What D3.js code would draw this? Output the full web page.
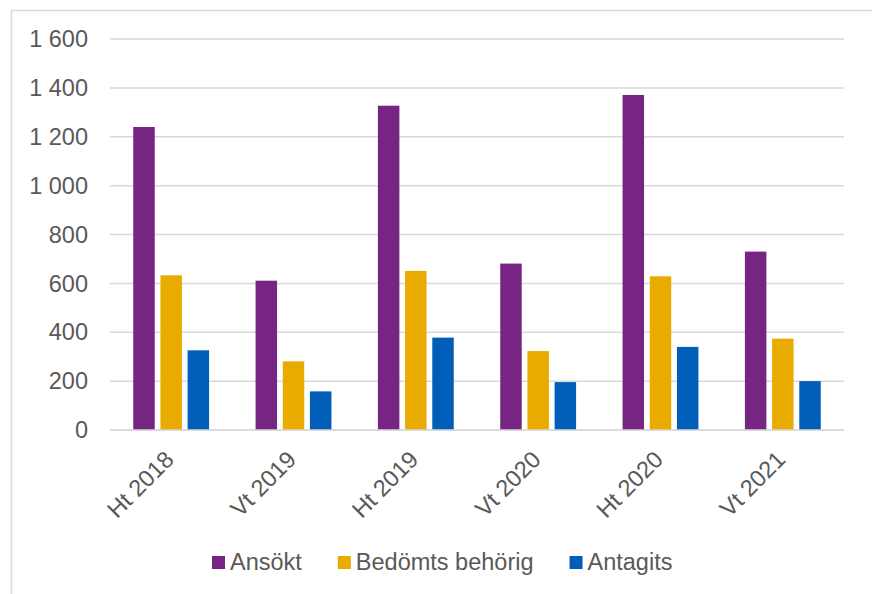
<!DOCTYPE html>
<html><head><meta charset="utf-8">
<script src="https://cdn.jsdelivr.net/npm/d3@7"></script>
<style>
html,body{margin:0;padding:0;background:#fff;}
svg{display:block;}
text{font-family:Arial,"Liberation Sans",sans-serif;fill:#595959;}
</style></head>
<body>
<script>
const categories = ["Ht 2018","Vt 2019","Ht 2019","Vt 2020","Ht 2020","Vt 2021"];
const seriesNames = ["Ansökt","Bedömts behörig","Antagits"];
const ansokt = [1240, 611, 1327, 681, 1371, 730];
const behorig = [633, 281, 651, 323, 629, 374];
const antagits = [326, 158, 378, 196, 340, 200];
const colors = ["#772583","#EAAB00","#005EB8"];
const yTicks = [0,200,400,600,800,1000,1200,1400,1600];

(function(){
const W = 872, H = 594;
const svg = d3.select("body").append("svg").attr("width",W).attr("height",H);

// outer frame
svg.append("rect").attr("x",11.5).attr("y",10.5).attr("width",W).attr("height",H)
  .attr("fill","none").attr("stroke","#d9d9d9").attr("stroke-width",1.5);

const pLeft = 110, pRight = 844, pTop = 39, pBottom = 430;
const y = d3.scaleLinear().domain([0,1600]).range([pBottom, pTop]);
const x0 = d3.scaleBand().domain(categories).range([pLeft, pRight]).padding(0);
const bw = x0.bandwidth();
const x1 = d3.scaleBand().domain(seriesNames).range([bw*0.19, bw*0.81]).paddingInner(0.21);

const fmt = v => d3.format(",")(v).replace(/,/g, " ");

// gridlines
svg.append("g").selectAll("line").data(yTicks).join("line")
  .attr("x1",pLeft).attr("x2",pRight)
  .attr("y1",d=>y(d)).attr("y2",d=>y(d))
  .attr("stroke","#d9d9d9").attr("stroke-width",1.5);

// y labels
svg.append("g").selectAll("text").data(yTicks).join("text")
  .attr("x",88).attr("y",d=>y(d)).attr("dy","0.35em")
  .attr("text-anchor","end").attr("font-size",23.5)
  .text(fmt);

const data = [ansokt, behorig, antagits];
const g = svg.append("g");
seriesNames.forEach((s,si)=>{
  g.append("g").selectAll("rect").data(categories).join("rect")
    .attr("x",(c)=>x0(c)+x1(s))
    .attr("width",x1.bandwidth())
    .attr("y",(c,i)=>y(data[si][i]))
    .attr("height",(c,i)=>y(0)-y(data[si][i]))
    .attr("fill",colors[si]);
});

// x axis line
svg.append("line").attr("x1",pLeft).attr("x2",pRight).attr("y1",y(0)).attr("y2",y(0))
  .attr("stroke","#d9d9d9").attr("stroke-width",1.5);

// x labels
svg.append("g").selectAll("text").data(categories).join("text")
  .attr("transform",c=>`translate(${x0(c)+bw/2+4},${pBottom+31}) rotate(-45)`)
  .attr("text-anchor","end").attr("font-size",23.5)
  .text(c=>c);

// legend
const leg = svg.append("g");
let lx = 212;
seriesNames.forEach((s,i)=>{
  leg.append("rect").attr("x",lx).attr("y",556).attr("width",13).attr("height",13).attr("fill",colors[i]);
  const t = leg.append("text").attr("x",lx+18).attr("y",562).attr("dy","0.35em")
    .attr("font-size",23.5).text(s);
  lx += 18 + t.node().getComputedTextLength() + 36;
});
})();
</script>
</body></html>
